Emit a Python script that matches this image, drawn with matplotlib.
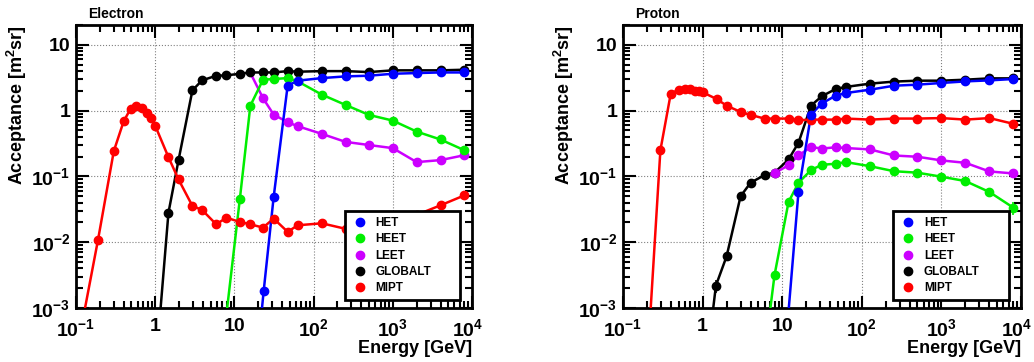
import numpy as np
import matplotlib
matplotlib.use("Agg")
import matplotlib.pyplot as plt
import matplotlib.transforms as mtransforms
from matplotlib.lines import Line2D
from matplotlib.ticker import LogLocator, NullFormatter, FixedLocator

plt.rcParams['font.family'] = ['Liberation Sans', 'DejaVu Sans']
plt.rcParams['font.weight'] = 'bold'
plt.rcParams['mathtext.fontset'] = 'custom'
plt.rcParams['mathtext.rm'] = 'Liberation Sans:bold'
plt.rcParams['mathtext.bf'] = 'Liberation Sans:bold'
plt.rcParams['mathtext.default'] = 'bf'

# ── DATA ─────────────────────────────────────────────────────────────────────
# Electron
e_mipt_x = [0.13, 0.19, 0.3, 0.4, 0.49, 0.58, 0.69, 0.79, 0.88, 1.0, 1.47, 1.97, 2.95, 3.9,
            5.9, 7.9, 11.7, 15.9, 23, 31.3, 47, 63, 127, 253, 500, 1000, 2000, 4000, 8000]
e_mipt_y = [0.001, 0.011, 0.242, 0.69, 1.07, 1.19, 1.10, 0.92, 0.78, 0.59, 0.196, 0.09, 0.0356, 0.031,
            0.0187, 0.0236, 0.0204, 0.0187, 0.0167, 0.0229, 0.0144, 0.0181, 0.0194, 0.016, 0.019, 0.021,
            0.026, 0.0364, 0.0515]
e_mipt_err = [0, 0.001, 0.01, 0.02, 0.03, 0.03, 0.03, 0.02, 0.02, 0.02, 0.008, 0.004, 0.002, 0.002,
              0.0015, 0.0015, 0.0015, 0.0015, 0.0015, 0.002, 0.0015, 0.0015, 0.0015, 0.0015, 0.002,
              0.002, 0.003, 0.005, 0.006]
e_glob_x = [1.17, 1.47, 1.97, 2.95, 3.9, 5.9, 7.9, 11.7, 15.9, 23, 31.3, 47, 63, 127, 253, 500, 1000, 2000, 4000, 8000]
e_glob_y = [0.001, 0.0281, 0.177, 2.03, 2.88, 3.39, 3.43, 3.63, 3.80, 3.80, 3.80, 3.98, 3.9, 3.98, 3.98,
            3.85, 4.09, 4.09, 4.09, 4.18]
e_het_x = [22.3, 23.4, 31.3, 47, 63, 127, 253, 500, 1000, 2000, 4000, 8000]
e_het_y = [0.001, 0.0018, 0.0486, 2.39, 2.85, 3.12, 3.31, 3.39, 3.63, 3.72, 3.80, 3.80]
e_heet_x = [8.1, 11.7, 15.9, 23, 31.3, 47, 63, 127, 253, 500, 1000, 2000, 4000, 8000]
e_heet_y = [0.001, 0.0449, 1.19, 2.95, 3.02, 3.12, 2.78, 1.75, 1.22, 0.86, 0.705, 0.48, 0.364, 0.25]
e_leet_x = [15.9, 23, 31.3, 47, 63, 127, 253, 500, 1000, 2000, 4000, 8000]
e_leet_y = [3.75, 1.54, 0.87, 0.665, 0.58, 0.443, 0.335, 0.30, 0.269, 0.165, 0.177, 0.21]

# Proton
p_mipt_x = [0.223, 0.295, 0.398, 0.5, 0.6, 0.7, 0.8, 0.9, 1.0, 1.5, 2, 3, 4, 6, 8, 12, 16, 23, 31.3,
            47, 63, 127, 253, 500, 1000, 2000, 4000, 8000]
p_mipt_y = [0.001, 0.25, 1.81, 2.08, 2.1, 2.1, 2.0, 1.96, 1.9, 1.5, 1.19, 0.955, 0.86, 0.757, 0.757,
            0.757, 0.714, 0.73, 0.73, 0.73, 0.757, 0.73, 0.757, 0.757, 0.77, 0.73, 0.77, 0.63]
p_glob_x = [1.36, 1.47, 2, 3, 4, 6, 8, 12, 16, 23, 31.3, 47, 63, 127, 253, 500, 1000, 2000, 4000, 8000]
p_glob_y = [0.001, 0.0022, 0.0061, 0.050, 0.080, 0.105, 0.114, 0.181, 0.324, 1.19, 1.65, 2.13, 2.29,
            2.57, 2.76, 2.85, 2.85, 2.95, 3.09, 3.09]
p_glob_err = [0, 0.0005, 0.001, 0.003, 0.003, 0.003, 0.003, 0.005, 0.008, 0.02, 0.02, 0.02, 0.02,
              0.02, 0.02, 0.02, 0.02, 0.02, 0.03, 0.03]
p_het_x = [12.1, 16, 23, 31.3, 47, 63, 127, 253, 500, 1000, 2000, 4000, 8000]
p_het_y = [0.001, 0.058, 0.87, 1.28, 1.69, 1.85, 2.08, 2.39, 2.48, 2.63, 2.78, 2.88, 3.02]
p_heet_x = [7.1, 8, 12, 16, 23, 31.3, 47, 63, 127, 253, 500, 1000, 2000, 4000, 8000]
p_heet_y = [0.001, 0.00316, 0.0408, 0.080, 0.125, 0.150, 0.156, 0.165, 0.143, 0.12, 0.114, 0.099,
            0.085, 0.058, 0.0335]
p_heet_err = [0, 0.0004, 0.003, 0.004, 0.004, 0.004, 0.004, 0.004, 0.004, 0.004, 0.004, 0.005,
              0.006, 0.008, 0.008]
p_leet_x = [6, 8, 12, 16, 23, 31.3, 47, 63, 127, 253, 500, 1000, 2000, 4000, 8000]
p_leet_y = [0.1, 0.112, 0.148, 0.208, 0.28, 0.265, 0.277, 0.27, 0.257, 0.208, 0.199, 0.175, 0.161,
            0.119, 0.111]

LABELS = ["HET", "HEET", "LEET", "GLOBALT", "MIPT"]
COLORS = ["#0000ff", "#00ee00", "#cc00ff", "#000000", "#ff0000"]

PANELS = [
    ("Electron", [(e_het_x, e_het_y), (e_heet_x, e_heet_y), (e_leet_x, e_leet_y),
                  (e_glob_x, e_glob_y), (e_mipt_x, e_mipt_y)],
     [(4, e_mipt_err)]),
    ("Proton",   [(p_het_x, p_het_y), (p_heet_x, p_heet_y), (p_leet_x, p_leet_y),
                  (p_glob_x, p_glob_y), (p_mipt_x, p_mipt_y)],
     [(1, p_heet_err), (3, p_glob_err)]),
]

# ── CHART ────────────────────────────────────────────────────────────────────
fig = plt.figure(figsize=(10.34, 3.62), dpi=100)
rects = [[0.0735, 0.149, 0.383, 0.782], [0.6025, 0.149, 0.385, 0.782]]

for (title, series, errs), rect in zip(PANELS, rects):
    ax = fig.add_axes(rect)
    ax.set_xscale("log"); ax.set_yscale("log")
    ax.set_xlim(0.1, 1e4); ax.set_ylim(1e-3, 20)
    for i in [3, 4, 2, 1, 0]:
        x, y = series[i]
        x = np.array(x); y = np.array(y)
        ax.plot(x, y, color=COLORS[i], lw=1.8, zorder=3)
        # first point sits on the frame edge: no marker
        ax.plot(x[1:], y[1:], ls="none", marker="o", ms=6, color=COLORS[i], zorder=4)
    for i, err in errs:
        x, y = series[i]
        ax.errorbar(x[1:], y[1:], yerr=err[1:], ls="none", color=COLORS[i], lw=1.2, zorder=3)

    ax.xaxis.set_major_locator(FixedLocator([0.1, 1, 10, 100, 1000, 10000]))
    ax.set_xticklabels([r"$10^{-1}$", "1", "10", r"$10^{2}$", r"$10^{3}$", r"$10^{4}$"])
    ax.yaxis.set_major_locator(FixedLocator([1e-3, 1e-2, 1e-1, 1, 10]))
    ax.set_yticklabels([r"$10^{-3}$", r"$10^{-2}$", r"$10^{-1}$", "1", "10"])
    ax.xaxis.set_minor_locator(LogLocator(base=10, subs=np.arange(2, 10), numticks=20))
    ax.yaxis.set_minor_locator(LogLocator(base=10, subs=np.arange(2, 10), numticks=20))
    ax.xaxis.set_minor_formatter(NullFormatter()); ax.yaxis.set_minor_formatter(NullFormatter())
    ax.tick_params(which="both", direction="in", top=True, right=True, width=1.5)
    ax.tick_params(which="major", length=9, labelsize=14)
    ax.tick_params(axis="x", which="major", pad=7)
    ax.tick_params(axis="y", which="major", pad=4)
    ax.tick_params(which="minor", length=5)
    ax.grid(True, which="major", ls=":", color="gray", lw=0.8)
    for s in ax.spines.values():
        s.set_linewidth(2)
    # keep the last x label inside the figure
    last = ax.get_xticklabels()[-1]
    last.set_transform(last.get_transform() + mtransforms.ScaledTranslation(-4/100, 0, fig.dpi_scale_trans))

    ax.set_ylabel(r"Acceptance [m$^{2}$sr]", fontsize=13, fontweight="bold", loc="top", labelpad=2)
    ax.set_xlabel("Energy [GeV]", fontsize=13, fontweight="bold", loc="right", labelpad=0)
    ax.text(0.03, 1.015, title, transform=ax.transAxes, fontsize=10, fontweight="bold",
            ha="left", va="bottom")

    handles = [Line2D([], [], ls="none", marker="o", ms=6, color=c) for c in COLORS]
    leg = ax.legend(handles, LABELS, loc="lower left", bbox_to_anchor=(0.679, 0.028, 0.291, 0.311),
                    mode="expand", borderaxespad=0, fancybox=False, framealpha=1, edgecolor="black",
                    prop={"size": 8.5, "weight": "bold"}, labelspacing=0.36, handletextpad=0.6,
                    borderpad=0.5, handlelength=1.5)
    leg.get_frame().set_linewidth(2)
    leg.set_zorder(10)

plt.savefig("out.png", dpi=100)
